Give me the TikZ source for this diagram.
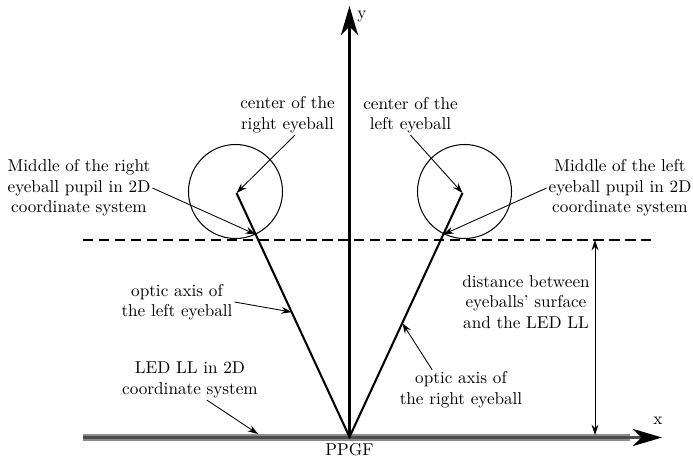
\documentclass[tikz,border=0pt]{standalone}
\usepackage{tikz}
\usetikzlibrary{arrows.meta,calc}

\begin{document}
\begin{tikzpicture}[x=0.0205cm, y=-0.0205cm,
      lbl/.style={align=center, inner sep=1pt},
      ptr/.style={-{Stealth[length=6pt, width=4pt]}, line width=0.5pt},
      axis/.style={-{Stealth[length=17pt, width=10pt, inset=5pt, color=black]}, line width=1.2pt}]
    \useasboundingbox (0,0) rectangle (693,459);
    % points of the construction
    \coordinate (o)  at (349.5,437);
    \coordinate (yt) at (349.5,6);
    \coordinate (xs) at (83,437.5);
    \coordinate (be) at (630,437.5);
    \coordinate (xe) at (662,437.5);
    \coordinate (cr) at (236.5,193);
    \coordinate (cl) at (462.5,193);
    \coordinate (pr) at ($(cr)!0.17!(o)$);
    \coordinate (pl) at ($(cl)!0.17!(o)$);
    \coordinate (dl) at (83,240);
    \coordinate (dr) at (651,240);
    \coordinate (dt) at (595,240);
    \coordinate (db) at (595,435);
    \coordinate (ledp) at (258,434);
    % LED LL and axes
    \draw[line width=4.2pt, black!45] (xs) -- (be);
    \draw[axis, black!70] (xs) -- (xe);
    \draw[axis] (o) -- (yt);
    \node (xl) at (658,421) {x};
    \node (yl) at (362,17) {y};
    \node (ppgf) at (349.5,450) {PPGF};
    % eyeballs
    \draw[line width=0.6pt] (235.5,191.5) circle [radius=47];
    \draw[line width=0.6pt] (464.5,191.5) circle [radius=47];
    \draw[line width=1.1pt, dash pattern=on 6pt off 3.3pt] (dl) -- (dr);
    \draw[line width=1.2pt] (cr) -- (o) -- (cl);
    \draw[{Stealth[length=6pt, width=4pt]}-{Stealth[length=6pt, width=4pt]}, line width=0.5pt] (dt) -- (db);
    % labels
    \node[lbl] (cre) at (287.5,115) {center of the\\right eyeball};
    \node[lbl] (cle) at (410.5,115) {center of the\\left eyeball};
    \node[lbl] (mre) at (79,188) {Middle of the right\\eyeball pupil in 2D\\coordinate system};
    \node[lbl] (mle) at (620,188) {Middle of the left\\eyeball pupil in 2D\\coordinate system};
    \node[lbl] (oal) at (177,302) {optic axis of\\the left eyeball};
    \node[lbl] (oar) at (461,390) {optic axis of\\the right eyeball};
    \node[lbl] (led) at (190,380) {LED LL in 2D\\coordinate system};
    \node[lbl] (dist) at (526,302) {distance between\\eyeballs' surface\\and the LED LL};
    \draw[ptr] (cre.-70) -- (cr);
    \draw[ptr] (cle.south) -- (cl);
    \draw[ptr] (mre.east) -- (pr);
    \draw[ptr] (mle.west) -- (pl);
    \draw[ptr] (oal.east) -- ($(cr)!0.488!(o)$);
    \draw[ptr] (oar.145) -- ($(cl)!0.533!(o)$);
    \draw[ptr] (led.-50) -- (ledp);
  \end{tikzpicture}
\end{document}
